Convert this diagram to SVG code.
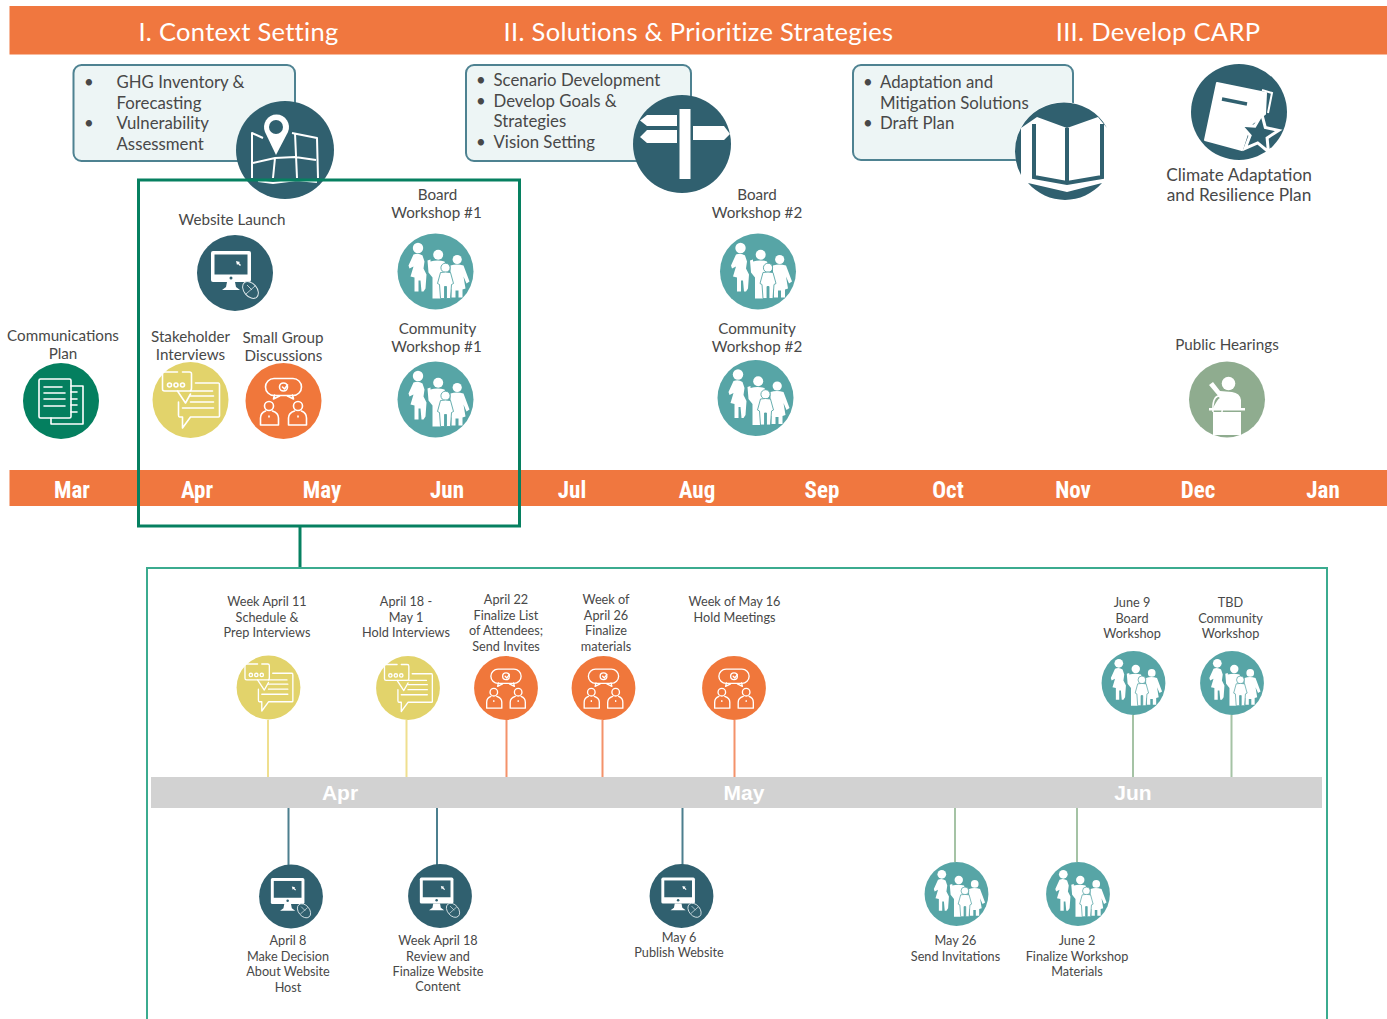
<svg xmlns="http://www.w3.org/2000/svg" width="1387" height="1019" viewBox="0 0 1387 1019">
<style>
text{font-family:"Lato","Open Sans","Liberation Sans",sans-serif;fill:#484848;text-anchor:middle}
.hd{font-size:25.5px;fill:#fff;letter-spacing:.3px}
.mo{font-family:"Liberation Sans Narrow","Roboto Condensed","Liberation Sans",sans-serif;font-size:23px;font-weight:700;fill:#fff}
.gm{font-family:"Liberation Sans",sans-serif;font-size:21px;font-weight:700;fill:#fff}
.l{font-size:15.2px}
.t{font-size:17.3px}
.s{font-size:12.7px}
.b{font-size:16.8px;text-anchor:start}
.box{fill:#edf5f5;stroke:#4e8291;stroke-width:2}
.w{fill:#fff}
.o{fill:none;stroke:#fff;stroke-width:1.6;stroke-linejoin:round;stroke-linecap:round}
.m{fill:none;stroke:#fff;stroke-width:2;stroke-linejoin:round}
.c{fill:none;stroke-width:2}
</style>
<defs>
<g id="family"><circle r="38" fill="#57a5a6"/>
<circle cx="-17.5" cy="-23.5" r="5.2" class="w"/>
<path class="w" d="M-22-17Q-17-19-13-16L-11-10-12-3-9 3-10 17-12 20H-14L-15 9H-17L-17 20H-21L-21 6-25 5-22-5-26-3-27-6Z"/>
<circle cx="2.7" cy="-16.7" r="5" class="w"/>
<path class="w" d="M-5-10Q2-12 9-10L12 0 9 3 7 27H-3L-3 6-7 1-8-11-5-12Z"/>
<circle cx="21.7" cy="-12" r="4.6" class="w"/>
<path class="w" d="M15-6Q21-8 28-6L34 10 31 12 28 5 30 17 27 18 27 26H23L23 19 20 19 20 26H16L16 18 13 17 15 5Z"/>
<circle cx="10" cy="-3.7" r="4.6" class="w" stroke="#57a5a6" stroke-width=".9"/>
<path class="w" stroke="#57a5a6" stroke-width=".9" d="M5 1Q10 0 15 1L18 12 16 13 15 27H11V15H9V27H5L4 13 2 12Z"/>
</g>
<g id="monitor"><circle r="38" fill="#30606f"/>
<rect x="-24" y="-22" width="40" height="31" rx="2" class="w"/>
<rect x="-20.5" y="-18.5" width="33" height="20" fill="#30606f"/>
<path class="w" d="M1-12l4 1-1 1 2 2-1 1-2-2-1 1Z"/>
<circle cx="-4" cy="5" r="1.5" fill="#30606f"/>
<path class="w" d="M-8 9H0L1 14 5 17H-13L-9 14Z"/>
<ellipse cx="15.5" cy="17" rx="6.5" ry="9.5" transform="rotate(-40 15.5 17)" fill="#30606f" stroke="#dfe9ec" stroke-width="1"/>
<path d="M11 21L20 13M12 12L17 17" stroke="#dfe9ec" stroke-width=".8" fill="none"/>
</g>
<g id="chat"><circle r="38" fill="#e2d36b"/>
<path class="o" d="M-28-14V-27Q-28-28-26-28H-13M-8-28H-1Q1-28 1-26V-12Q1-9-1-9H-26Q-28-9-28-11V-14"/>
<path class="o" d="M-13-9L-5 3 0-6"/>
<path class="o" d="M5-17H28Q29-17 29-15V16Q29 17 28 17H0L-8 28V17H-11Q-12 17-12 15V2"/>
<path class="o" d="M0-9H22M0-4H23M0 2H23M-8 8H23"/>
<circle cx="-21" cy="-15" r="2" class="o"/><circle cx="-14.5" cy="-15" r="2" class="o"/><circle cx="-8" cy="-15" r="2" class="o"/>
</g>
<g id="group"><circle r="38" fill="#f0773b"/>
<rect x="-18" y="-22.5" width="36" height="17" rx="8.5" class="o"/>
<path class="o" d="M-9-6L-10-2-4-5M9-6L10-2 4-5"/>
<circle cy="-14" r="4" class="o"/><path class="o" d="M-1-14L1-12 4-16"/>
<circle cx="-14.5" cy="5" r="4.5" class="o"/><circle cx="14.5" cy="5" r="4.5" class="o"/>
<path class="o" d="M-18 10Q-23 12-23 17V24H-5V17Q-5 12-11 10M11 10Q5 12 5 17V24H23V17Q23 12 18 10M-14.5 15v1M14.500 15v1"/>
</g>
<g id="doc"><circle r="38" fill="#047f5f"/>
<path class="o" d="M10-15H22V23H-10V17M10-9H16M10-2H16M10 4H16M10 11H16"/>
<rect x="-22" y="-22" width="32" height="39" rx="1.5" class="o"/>
<path class="o" d="M-17-14H1M-17-8H4M-17-2H4M-17 5H4"/>
</g>
</defs>

<g id="header">
<rect x="9.5" y="6" width="1377.5" height="48.500" fill="#f0773f"/>
<text class="hd" x="238.500" y="40.500">I. Context Setting</text>
<text class="hd" x="698.500" y="40.500">II. Solutions &amp; Prioritize Strategies</text>
<text class="hd" x="1158" y="40.500">III. Develop CARP</text>
</g>

<g id="phase-1">
<rect class="box" x="73.500" y="65" width="221.500" height="96" rx="8"/>
<text class="b" x="84" y="88">•</text><text class="b" x="116.500" y="88">GHG Inventory &amp;</text>
<text class="b" x="116.500" y="109">Forecasting</text>
<text class="b" x="84" y="129">•</text><text class="b" x="116.500" y="129">Vulnerability</text>
<text class="b" x="116.500" y="150">Assessment</text>
<circle cx="285" cy="150" r="49" fill="#30606f"/>
<path class="m" d="M263 138L252 133V178M292 133L317 138 318 178M253 163L275 158 295 157 316 160M275 158L273 178M295 133L297 178M258 181L273 183 297 180 317 182"/>
<path class="w" d="M276 155L265 132A12.500 12.500 0 1 1 288 132Z"/>
<circle cx="276" cy="127" r="7" fill="#30606f"/>
</g>
<g id="phase-2">
<rect class="box" x="466" y="65" width="225" height="96" rx="8"/>
<text class="b" x="476" y="86">•</text><text class="b" x="493.500" y="86">Scenario Development</text>
<text class="b" x="476" y="107">•</text><text class="b" x="493.500" y="107">Develop Goals &amp;</text>
<text class="b" x="493.500" y="127">Strategies</text>
<text class="b" x="476" y="148">•</text><text class="b" x="493.500" y="148">Vision Setting</text>
<circle cx="682" cy="144" r="49" fill="#30606f"/>
<rect class="w" x="679.500" y="109" width="11" height="70"/>
<path class="w" d="M647 115H677V126H647L640 120.500ZM647 130H677V143H647L640 137ZM693 126H724L730 134 724 140H693Z"/>
</g>
<g id="phase-3">
<rect class="box" x="853" y="65" width="220" height="95" rx="8"/>
<text class="b" x="863" y="88">•</text><text class="b" x="880" y="88">Adaptation and</text>
<text class="b" x="880" y="109">Mitigation Solutions</text>
<text class="b" x="863" y="129">•</text><text class="b" x="880" y="129">Draft Plan</text>
<circle cx="1064" cy="151" r="49" fill="#fff"/>
<path fill="#30606f" d="M1021 128A49 49 0 0 1 1107 128L1098 117 1067 128 1037 117ZM1021 128A49 49 0 0 0 1021 175ZM1028 183L1067 192 1102 183A49 49 0 0 1 1028 183Z"/>
<path d="M1034 124V177L1067 183 1102 177V124M1067 128V183" fill="none" stroke="#30606f" stroke-width="4"/>
</g>
<g id="carp">
<circle cx="1239" cy="112" r="48" fill="#30606f"/>
<path class="w" d="M1217 83L1266 93 1265 114 1250 125 1242 150 1205 140Z" stroke="#fff" stroke-width="2" stroke-linejoin="round"/>
<path d="M1262 90L1272 93 1268 113" fill="none" stroke="#fff" stroke-width="2"/>
<path d="M1222 99L1247 104" stroke="#30606f" stroke-width="3.500"/>
<path d="M1261.800 114.200L1265.300 127.500 1278.700 130.500 1267.100 137.900 1268.400 151.700 1257.700 142.900 1245.100 148.400 1250.100 135.600 1241 125.200 1254.800 126.100Z" fill="#30606f" stroke="#fff" stroke-width="3"/>
<text class="t" x="1239" y="181">Climate Adaptation</text>
<text class="t" x="1239" y="201">and Resilience Plan</text>
</g>

<g id="months">
<rect x="9.500" y="470" width="1377.500" height="36" fill="#f0773f"/>
<text class="mo" x="72" y="498">Mar</text><text class="mo" x="197" y="498">Apr</text><text class="mo" x="322" y="498">May</text><text class="mo" x="447" y="498">Jun</text><text class="mo" x="572" y="498">Jul</text><text class="mo" x="697" y="498">Aug</text><text class="mo" x="822" y="498">Sep</text><text class="mo" x="948" y="498">Oct</text><text class="mo" x="1073" y="498">Nov</text><text class="mo" x="1198" y="498">Dec</text><text class="mo" x="1323" y="498">Jan</text>
</g>

<g id="node-comm-plan"><use href="#doc" transform="translate(61 401)"/><text class="l" x="63" y="341">Communications</text><text class="l" x="63" y="359">Plan</text></g>
<g id="node-stakeholder"><use href="#chat" transform="translate(190.500 400)"/><text class="l" x="190.500" y="342">Stakeholder</text><text class="l" x="190.500" y="360">Interviews</text></g>
<g id="node-small-group"><use href="#group" transform="translate(283.500 401)"/><text class="l" x="283" y="343">Small Group</text><text class="l" x="283.500" y="361">Discussions</text></g>
<g id="node-website"><use href="#monitor" transform="translate(235 273)"/><text class="l" x="232" y="225">Website Launch</text></g>
<g id="node-board1"><use href="#family" transform="translate(435.500 271.500)"/><text class="l" x="437.500" y="200">Board</text><text class="l" x="436.500" y="218">Workshop #1</text></g>
<g id="node-community1"><use href="#family" transform="translate(435.500 399.500)"/><text class="l" x="437.500" y="334">Community</text><text class="l" x="436.500" y="352">Workshop #1</text></g>
<g id="node-board2"><use href="#family" transform="translate(758 271.500)"/><text class="l" x="757" y="200">Board</text><text class="l" x="757" y="218">Workshop #2</text></g>
<g id="node-community2"><use href="#family" transform="translate(755.500 398)"/><text class="l" x="757" y="334">Community</text><text class="l" x="757" y="352">Workshop #2</text></g>
<g id="node-hearings">
<circle cx="1227" cy="399.500" r="38" fill="#8fac8f"/>
<circle cx="1228.500" cy="383.500" r="6.800" class="w"/>
<path class="w" d="M1209 385L1213 382 1220 391 1232 392Q1240 393 1241 400V410H1212Q1218 398 1220 398Z"/>
<path d="M1213 412Q1212 398 1218 396 1224 397 1222 412" fill="none" stroke="#fff" stroke-width="1.500"/>
<rect class="w" x="1209" y="408" width="36" height="2.500"/>
<rect class="w" x="1213" y="412" width="28" height="23"/>
<text class="l" x="1227" y="350">Public Hearings</text>
</g>

<g id="connectors">
<rect x="138.500" y="180" width="381" height="346" fill="none" stroke="#068060" stroke-width="3"/>
<path d="M300 526V569" fill="none" stroke="#068060" stroke-width="3"/>
<path d="M147 1019V568H1327V1019" fill="none" stroke="#3bab8f" stroke-width="2"/>
<path class="c" stroke="#efdf8f" d="M268 720V777M406.500 720V777"/>
<path class="c" stroke="#f4926a" d="M506.500 720V777M602.500 720V777M734.500 720V777"/>
<path class="c" stroke="#a5c3a5" d="M1133 715V777M1231.500 715V777M955 808V862M1077 808V862"/>
<path class="c" stroke="#4c7f8e" d="M288.500 808V865M437 808V865M682.500 808V865"/>
</g>

<g id="detail-timeline">
<rect x="151" y="777" width="1171" height="31" fill="#d2d2d2"/>
<text class="gm" x="340" y="800">Apr</text><text class="gm" x="744" y="800">May</text><text class="gm" x="1133" y="800">Jun</text>
</g>

<g id="d-apr11"><use href="#chat" transform="translate(268.500 687.500) scale(.84)"/><text class="s" x="267" y="606">Week April 11</text><text class="s" x="267" y="622">Schedule &amp;</text><text class="s" x="267" y="637">Prep Interviews</text></g>
<g id="d-apr18"><use href="#chat" transform="translate(408 688) scale(.84)"/><text class="s" x="406" y="606">April 18 -</text><text class="s" x="406" y="622">May 1</text><text class="s" x="406" y="637">Hold Interviews</text></g>
<g id="d-apr22"><use href="#group" transform="translate(506 688) scale(.84)"/><text class="s" x="506" y="604">April 22</text><text class="s" x="506" y="620">Finalize List</text><text class="s" x="506" y="635">of Attendees;</text><text class="s" x="506" y="651">Send Invites</text></g>
<g id="d-apr26"><use href="#group" transform="translate(603.500 688) scale(.84)"/><text class="s" x="606" y="604">Week of</text><text class="s" x="606" y="620">April 26</text><text class="s" x="606" y="635">Finalize</text><text class="s" x="606" y="651">materials</text></g>
<g id="d-may16"><use href="#group" transform="translate(734 688) scale(.84)"/><text class="s" x="734.500" y="606">Week of May 16</text><text class="s" x="734.500" y="622">Hold Meetings</text></g>
<g id="d-jun9"><use href="#family" transform="translate(1133.500 683) scale(.84)"/><text class="s" x="1132" y="607">June 9</text><text class="s" x="1132" y="623">Board</text><text class="s" x="1132" y="638">Workshop</text></g>
<g id="d-tbd"><use href="#family" transform="translate(1232 683) scale(.84)"/><text class="s" x="1230.500" y="607">TBD</text><text class="s" x="1230.500" y="623">Community</text><text class="s" x="1230.500" y="638">Workshop</text></g>
<g id="d-apr8"><use href="#monitor" transform="translate(291 896.500) scale(.84)"/><text class="s" x="288" y="945">April 8</text><text class="s" x="288" y="961">Make Decision</text><text class="s" x="288" y="976">About Website</text><text class="s" x="288" y="992">Host</text></g>
<g id="d-wk18"><use href="#monitor" transform="translate(440 896) scale(.84)"/><text class="s" x="438" y="945">Week April 18</text><text class="s" x="438" y="961">Review and</text><text class="s" x="438" y="976">Finalize Website</text><text class="s" x="438" y="991">Content</text></g>
<g id="d-may6"><use href="#monitor" transform="translate(681.500 896) scale(.84)"/><text class="s" x="679" y="942">May 6</text><text class="s" x="679" y="957">Publish Website</text></g>
<g id="d-may26"><use href="#family" transform="translate(956.500 894) scale(.84)"/><text class="s" x="955.500" y="945">May 26</text><text class="s" x="955.500" y="961">Send Invitations</text></g>
<g id="d-jun2"><use href="#family" transform="translate(1078 894) scale(.84)"/><text class="s" x="1077" y="945">June 2</text><text class="s" x="1077" y="961">Finalize Workshop</text><text class="s" x="1077" y="976">Materials</text></g>
</svg>
